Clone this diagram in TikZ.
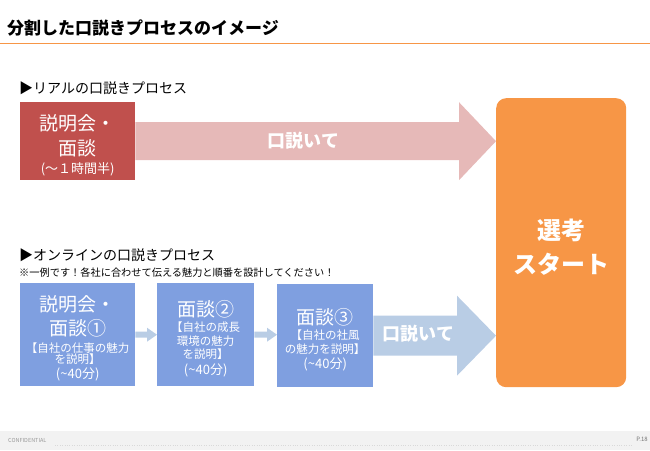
\documentclass[tikz,border=0pt]{standalone}
\usepackage{fontspec}
\setmainfont{Noto Sans CJK JP}
\usetikzlibrary{calc}
\definecolor{realred}{HTML}{C0504D}
\definecolor{realpink}{HTML}{E6B9B8}
\definecolor{startorange}{HTML}{F79646}
\definecolor{onlineblue}{HTML}{7F9FE0}
\definecolor{flowblue}{HTML}{B9CDE5}
\definecolor{footgray}{HTML}{F2F2F2}
\newcommand\bigjp{\fontsize{19}{19}\selectfont\rule{0pt}{24pt}}
\newcommand\subjp{\fontsize{11.5}{11.5}\selectfont}
\newcommand\timejp{\fontsize{13}{13}\selectfont}
\newcommand\stepfont{\fontsize{11}{11}\selectfont\lineskiplimit=-100pt\relax}
\tikzset{
  stepbase/.style={anchor=north west, inner sep=0pt, align=center, text=white,
    font=\stepfont},
  realbox/.style={stepbase, fill=realred, minimum width=115pt, minimum height=78pt},
  onlinebox/.style={stepbase, fill=onlineblue, minimum height=103pt},
  startbox/.style={anchor=north west, inner sep=0pt, align=center, text=white,
    fill=startorange, rounded corners=10pt, minimum width=130pt, minimum height=289pt,
    font=\bfseries\fontsize{24}{34}\selectfont},
  heading/.style={anchor=west, inner sep=0pt, font=\fontsize{14}{14}\selectfont},
  arrowlabel/.style={text=white, inner sep=0pt, font=\bfseries\fontsize{18}{18}\selectfont}
}
\begin{document}
\begin{tikzpicture}[x=1pt,y=-1pt]
  \useasboundingbox (0,0) rectangle (650,450);
  % title and footer
  \node[anchor=west, inner sep=0pt, font=\bfseries\fontsize{17}{17}\selectfont] (title) at (7,28) {分割した口説きプロセスのイメージ};
  \draw[startorange, line width=0.8pt] (0,43) -- (650,43);
  \fill[footgray] (0,431) rectangle (650,450);
  \draw[black!15, dotted] (55,445) -- (632,445);
  \node[anchor=west, inner sep=0pt, text=black!40, font=\fontsize{5.5}{5.5}\selectfont] (conf) at (8,440) {CONFIDENTIAL};
  \node[anchor=east, inner sep=0pt, text=black!55, font=\fontsize{6}{6}\selectfont] (page) at (648,439) {P.18};

  % real process
  \node[heading] (realhead) at (19,88) {▶リアルの口説きプロセス};
  \node[realbox] (real) at (20,102) {\bigjp 説明会・\\[13.5pt]\fontsize{19}{19}\selectfont 面談\\[7pt]\timejp (～１時間半)};
  \node[startbox] (start) at (496,98) {\rule{0pt}{30pt}選考\\スタート};
  \coordinate (realtip) at (real.east -| start.west);
  \fill[realpink] ($(real.east)+(0,-19)$) -- ($(realtip)+(-37,-19)$) -- ($(realtip)+(-37,-39)$)
    -- (realtip) -- ($(realtip)+(-37,39)$) -- ($(realtip)+(-37,19)$) -- ($(real.east)+(0,19)$) -- cycle;
  \node[arrowlabel] (reallabel) at ($(real.east)+(168,-1)$) {口説いて};

  % online process
  \node[heading] (onlinehead) at (19,255) {▶オンラインの口説きプロセス};
  \node[anchor=west, inner sep=0pt, font=\fontsize{10.2}{10.2}\selectfont] (note) at (19,273) {※一例です！各社に合わせて伝える魅力と順番を設計してください！};
  \node[onlinebox, minimum width=115pt] (iv1) at (20,283) {\bigjp 説明会・\\[13pt]\fontsize{19}{19}\selectfont 面談①\\[5.5pt]\subjp 【自社の仕事の魅力\\\subjp を説明】\\[4.5pt]\timejp (\textasciitilde40分)};
  \node[onlinebox, minimum width=97pt] (iv2) at (157,283) {\bigjp 面談②\\[4pt]\subjp 【自社の成長\\[2.5pt]\subjp 環境の魅力\\[2.5pt]\subjp を説明】\\[4.5pt]\timejp (\textasciitilde40分)};
  \node[onlinebox, minimum width=96pt] (iv3) at (277,284) {\bigjp 面談③\\[4pt]\subjp 【自社の社風\\[3pt]\subjp の魅力を説明】\\[3.5pt]\timejp (\textasciitilde40分)};
  \foreach \a/\b in {iv1/iv2,iv2/iv3}
    \fill[flowblue] ($(\a.east)+(0,-3)$) -- ($(\b.west |- \a.east)+(-10,-3)$) -- ($(\b.west |- \a.east)+(-10,-7)$)
      -- (\b.west |- \a.east) -- ($(\b.west |- \a.east)+(-10,7)$) -- ($(\b.west |- \a.east)+(-10,3)$) -- ($(\a.east)+(0,3)$) -- cycle;
  \coordinate (onlinetip) at (iv3.east -| start.west);
  \fill[flowblue] ($(iv3.east)+(0,-20)$) -- ($(onlinetip)+(-39,-20)$) -- ($(onlinetip)+(-39,-40)$)
    -- (onlinetip) -- ($(onlinetip)+(-39,40)$) -- ($(onlinetip)+(-39,20)$) -- ($(iv3.east)+(0,20)$) -- cycle;
  \node[arrowlabel] (onlinelabel) at ($(iv3.east)+(45,-2)$) {口説いて};
\end{tikzpicture}
\end{document}
